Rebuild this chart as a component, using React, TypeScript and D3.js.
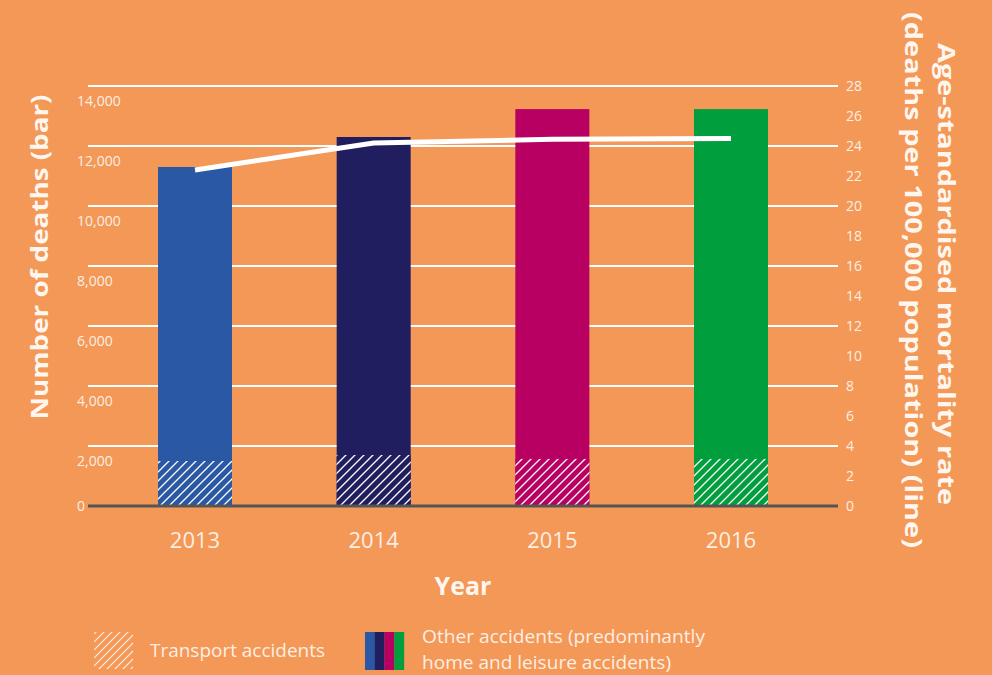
import React from "react";
import * as d3 from "d3";

const years = ["2013", "2014", "2015", "2016"];
const totalDeaths = [11300, 12300, 13230, 13230];
const transportDeaths = [1500, 1700, 1570, 1570];
const mortalityRate = [22.4, 24.2, 24.45, 24.5];
const barColors = ["#2a58a4", "#201e5e", "#b80062", "#009e3d"];
const leftTicks = [0, 2000, 4000, 6000, 8000, 10000, 12000, 14000];
const rightTicks = [0, 2, 4, 6, 8, 10, 12, 14, 16, 18, 20, 22, 24, 26, 28];
const gridTicks = [4, 8, 12, 16, 20, 24, 28];

const W = 992;
const H = 675;
const BG = "#f39857";
const TXT = "#fdeee3";
const FONT = "'Open Sans', Lato, sans-serif";

export default function App() {
  const x = d3.scalePoint<string>().domain(years).range([195, 731]);
  const yL = d3.scaleLinear().domain([0, 14000]).range([506, 86]);
  const yR = d3.scaleLinear().domain([0, 28]).range([506, 86]);
  const barW = 74;
  const line = d3
    .line<number>()
    .x((_, i) => x(years[i]) as number)
    .y((d) => yR(d));
  const fmt = d3.format(",");

  return (
    <div style={{ position: "fixed", left: 0, top: 0, width: W, height: H }}>
      <svg width={W} height={H} style={{ display: "block", fontFamily: FONT }}>
        <defs>
          {barColors.map((c, i) => (
            <pattern
              key={i}
              id={`hatch${i}`}
              patternUnits="userSpaceOnUse"
              width={9}
              height={9}
            >
              <rect width={9} height={9} fill={c} />
              <path d="M-1,1 L1,-1 M0,9 L9,0 M8,10 L10,8" stroke="#ffffff" strokeWidth={1.3} />
            </pattern>
          ))}
          <pattern id="hatchLegend" patternUnits="userSpaceOnUse" width={8} height={8}>
            <path d="M-1,1 L1,-1 M0,8 L8,0 M7,9 L9,7" stroke="#fdeee3" strokeWidth={1.2} />
          </pattern>
        </defs>
        <rect width={W} height={H} fill={BG} />

        {gridTicks.map((t) => (
          <line key={t} x1={88} x2={838} y1={yR(t)} y2={yR(t)} stroke="#ffffff" strokeWidth={2.2} />
        ))}

        {years.map((yr, i) => (
          <g key={yr}>
            <rect
              x={(x(yr) as number) - barW / 2}
              y={yL(totalDeaths[i])}
              width={barW}
              height={yL(0) - yL(totalDeaths[i])}
              fill={barColors[i]}
            />
            <rect
              x={(x(yr) as number) - barW / 2}
              y={yL(transportDeaths[i])}
              width={barW}
              height={yL(0) - yL(transportDeaths[i])}
              fill={`url(#hatch${i})`}
            />
          </g>
        ))}

        <line x1={88} x2={838} y1={yL(0)} y2={yL(0)} stroke="#555555" strokeWidth={3} />

        <path d={line(mortalityRate) || ""} fill="none" stroke="#ffffff" strokeWidth={5} />

        {leftTicks.map((t) => (
          <text
            key={t}
            x={77}
            y={yL(t) + (t > 0 ? 15 : 0)}
            dy="0.35em"
            fontSize={14}
            fill={TXT}
          >
            {fmt(t)}
          </text>
        ))}

        {rightTicks.map((t) => (
          <text key={t} x={846} y={yR(t)} dy="0.35em" fontSize={14} fill={TXT}>
            {t}
          </text>
        ))}

        {years.map((yr) => (
          <text
            key={yr}
            x={x(yr) as number}
            y={540}
            dy="0.35em"
            textAnchor="middle"
            fontSize={22}
            fill={TXT}
          >
            {yr}
          </text>
        ))}

        <text x={463} y={586} dy="0.35em" textAnchor="middle" fontSize={25} fontWeight="bold" fill="#fff6ef">
          Year
        </text>

        <text
          transform="translate(40,257) rotate(-90)"
          dy="0.35em"
          textAnchor="middle"
          fontSize={24}
          fontWeight="bold"
          fill="#fff6ef"
          textLength={325}
          lengthAdjust="spacingAndGlyphs"
        >
          Number of deaths (bar)
        </text>

        <text
          transform="translate(946,274) rotate(90)"
          dy="0.35em"
          textAnchor="middle"
          fontSize={24}
          fontWeight="bold"
          fill="#fff6ef"
          textLength={462}
          lengthAdjust="spacingAndGlyphs"
        >
          Age-standardised mortality rate
        </text>
        <text
          transform="translate(913,280) rotate(90)"
          dy="0.35em"
          textAnchor="middle"
          fontSize={24}
          fontWeight="bold"
          fill="#fff6ef"
          textLength={536}
          lengthAdjust="spacingAndGlyphs"
        >
          (deaths per 100,000 population) (line)
        </text>

        <rect x={94} y={632} width={39} height={37} fill="url(#hatchLegend)" />
        <text x={150} y={651} dy="0.35em" fontSize={18} fill={TXT} textLength={175} lengthAdjust="spacingAndGlyphs">
          Transport accidents
        </text>
        {barColors.map((c, i) => (
          <rect key={c} x={365 + i * 9.75} y={632} width={9.9} height={38} fill={c} />
        ))}
        <text x={422} y={637} dy="0.35em" fontSize={18} fill={TXT} textLength={283} lengthAdjust="spacingAndGlyphs">
          Other accidents (predominantly
        </text>
        <text x={422} y={663} dy="0.35em" fontSize={18} fill={TXT} textLength={249} lengthAdjust="spacingAndGlyphs">
          home and leisure accidents)
        </text>
      </svg>
    </div>
  );
}
